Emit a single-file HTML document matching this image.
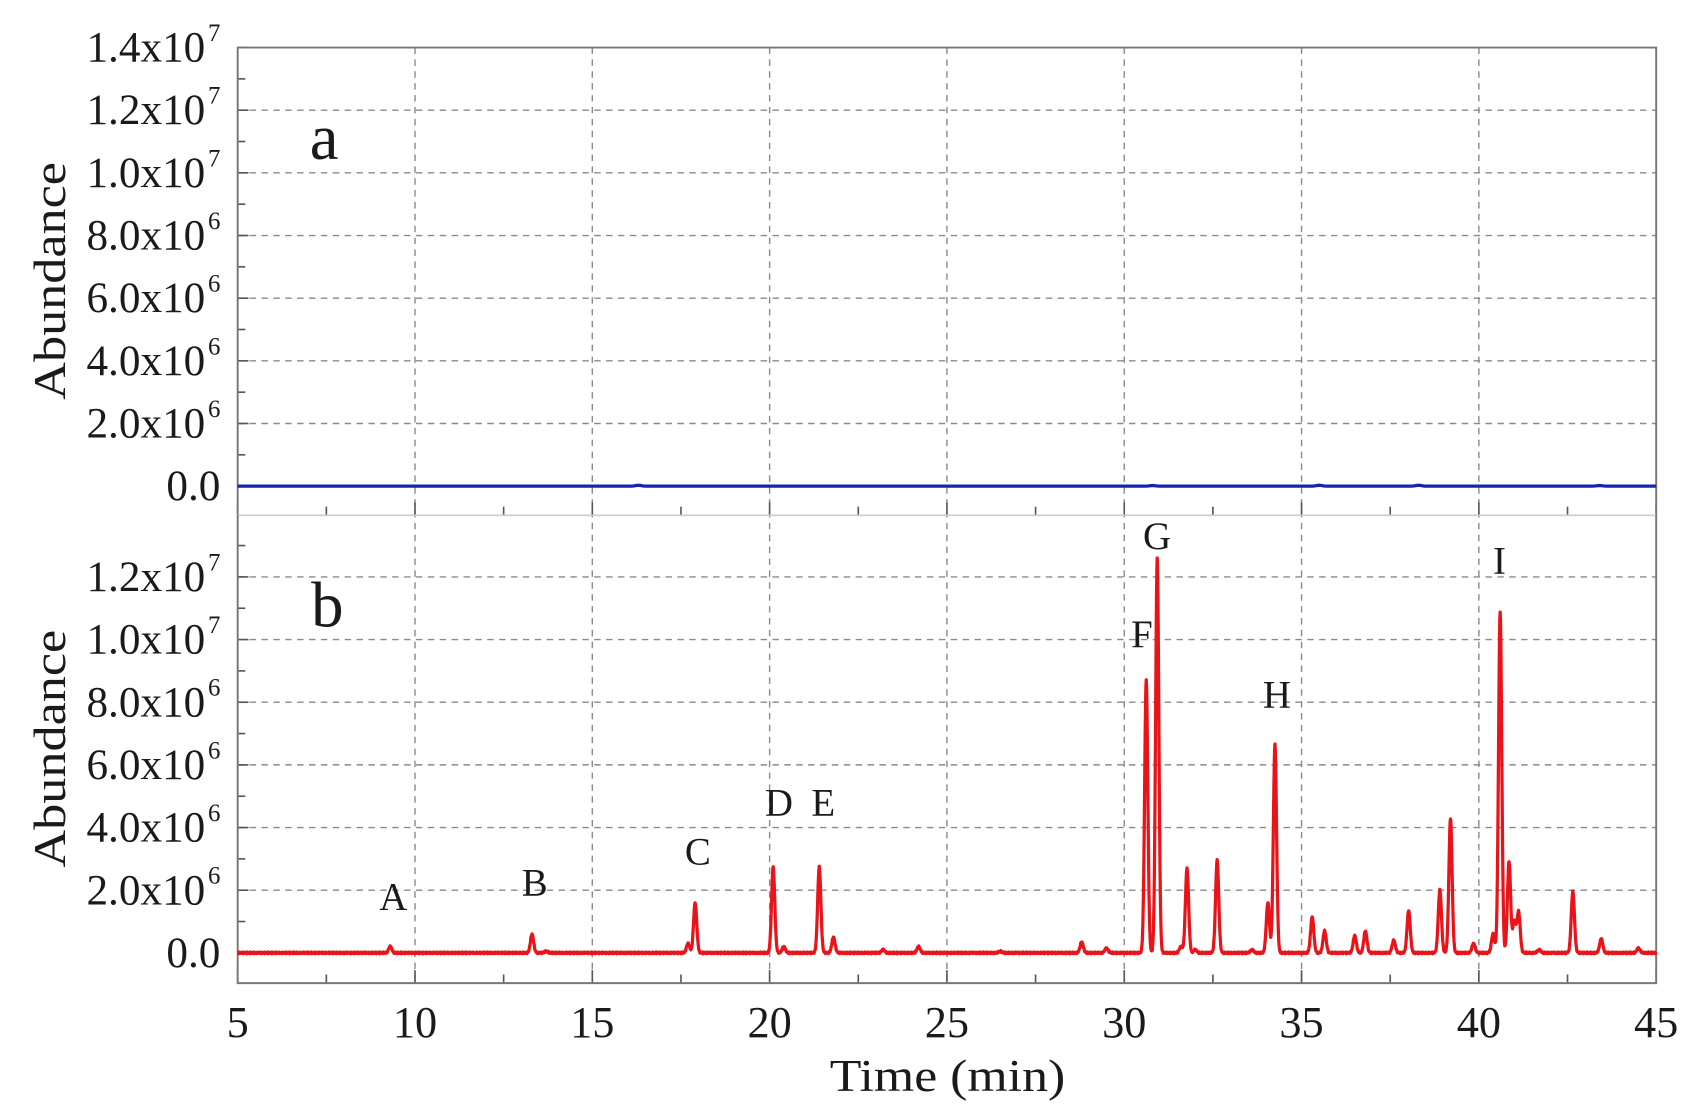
<!DOCTYPE html>
<html><head><meta charset="utf-8">
<style>
html,body{margin:0;padding:0;background:#fff;}
svg{display:block;}
text{font-family:"Liberation Serif",serif;fill:#1a1a1a;}
</style></head>
<body>
<svg id="s" width="1694" height="1116" viewBox="0 0 1568 1033" xmlns="http://www.w3.org/2000/svg">
<rect width="1568" height="1033" fill="#fff"/>
<g id="grid" stroke="#8a8a8a" stroke-width="1.3" stroke-dasharray="6,5" fill="none"></g>
<g id="ticks" stroke="#555" stroke-width="1.5" fill="none"></g>
<path d="M220,477 V44 H1533 V477" stroke="#777" stroke-width="1.8" fill="none"/>
<line x1="220" y1="477" x2="1533" y2="477" stroke="#ccc" stroke-width="1.5"/>
<path d="M220,477 V910 H1533 V477" stroke="#777" stroke-width="1.8" fill="none"/>
<path id="blue" stroke="#1a22b0" stroke-width="3" fill="none"/>
<path id="red" stroke="#e8141a" stroke-width="3" fill="none" stroke-linejoin="round"/>
<g id="labels" font-size="40" text-anchor="end"></g>
<g font-size="41" text-anchor="middle" id="xl"></g>
<text x="300" y="147" font-size="60" text-anchor="middle">a</text>
<text x="303" y="580" font-size="60" text-anchor="middle">b</text>
<g font-size="36" text-anchor="middle">
<text x="364" y="842">A</text><text x="495" y="829">B</text><text x="646" y="800">C</text>
<text x="721" y="755">D</text><text x="762" y="755">E</text><text x="1057" y="599">F</text>
<text x="1071" y="508">G</text><text x="1182" y="655">H</text><text x="1388" y="531">I</text>
</g>
<text transform="translate(60,260) rotate(-90)" font-size="42" text-anchor="middle" textLength="220" lengthAdjust="spacingAndGlyphs">Abundance</text>
<text transform="translate(60,693) rotate(-90)" font-size="42" text-anchor="middle" textLength="220" lengthAdjust="spacingAndGlyphs">Abundance</text>
<text x="877" y="1010" font-size="42" text-anchor="middle" textLength="218" lengthAdjust="spacingAndGlyphs">Time (min)</text>
</svg>
<script>
var NS="http://www.w3.org/2000/svg";
function X(t){return 220+(t-5)*(1313/40);}
function el(p,n,a,txt){var e=document.createElementNS(NS,n);for(var k in a)e.setAttribute(k,a[k]);if(txt!=null)e.textContent=txt;document.getElementById(p).appendChild(e);return e;}
var U=29;
for(var t=10;t<45;t+=5){el("grid","line",{x1:X(t),y1:44,x2:X(t),y2:910});}
for(var v=2;v<=12;v+=2){el("grid","line",{x1:220,y1:450-v*U,x2:1533,y2:450-v*U});el("grid","line",{x1:220,y1:882-v*U,x2:1533,y2:882-v*U});}
for(var v=0;v<=14;v++){var L=(v%2==0)?10:7;
 if(450-v*U>=44)el("ticks","line",{x1:220,y1:450-v*U,x2:220+L,y2:450-v*U});
 if(882-v*U>=478)el("ticks","line",{x1:220,y1:882-v*U,x2:220+L,y2:882-v*U});}
for(var t=5;t<=45;t+=2.5){var L=(t%5==0)?12:8;
 el("ticks","line",{x1:X(t),y1:910,x2:X(t),y2:910-L});
 el("ticks","line",{x1:X(t),y1:477,x2:X(t),y2:477-L});}
var labs=[[0,"0.0",""],[2,"2.0x10","6"],[4,"4.0x10","6"],[6,"6.0x10","6"],[8,"8.0x10","6"],[10,"1.0x10","7"],[12,"1.2x10","7"],[14,"1.4x10","7"]];
labs.forEach(function(l){
 [450,882].forEach(function(base){
  var y=base-l[0]*U; if(base==882&&l[0]>12)return;
  if(l[2]){el("labels","text",{x:190,y:y+13},l[1]);
   el("labels","text",{x:204,y:y-6,"font-size":23},l[2]);}
  else el("labels","text",{x:204,y:y+13},l[1]);
 });});
for(var t=5;t<=45;t+=5)el("xl","text",{x:X(t),y:960},""+t);
var P=[[9.3,0.2],[13.3,0.6],[13.7,0.05],[17.7,0.3],[17.9,1.6],[20.1,2.75],[20.4,0.2],[21.4,2.75],[21.8,0.5],[23.2,0.1],[24.2,0.2],[26.5,0.05],[28.8,0.35],[29.5,0.15],[30.62,8.7],[30.93,12.6],[31.6,0.2],[31.77,2.7],[32.0,0.1],[32.62,2.95],[33.6,0.1],[34.05,1.6],[34.25,6.65],[35.3,1.15],[35.65,0.7],[36.5,0.55],[36.8,0.7],[37.6,0.4],[38.02,1.35],[38.9,2.0],[39.2,4.3],[39.85,0.3],[40.4,0.6],[40.6,10.9],[40.85,2.9],[41.0,1.0],[41.12,1.3],[41.7,0.1],[42.65,1.95],[43.45,0.45],[44.5,0.15]];
var d="";for(var i=0;i<=4000;i++){var t=5+40*i/4000,s=0;
 P.forEach(function(p){var w=0.045;s+=p[1]*Math.exp(-Math.pow((t-p[0])/w,2)/2);});
 s+=0.03*Math.sin(i*1.7)*Math.sin(i*0.31);
 d+=(i?"L":"M")+X(t).toFixed(2)+","+(882-s*U).toFixed(2);}
document.getElementById("red").setAttribute("d",d);
var d2="";for(var i=0;i<=800;i++){var t=5+40*i/800,s=0;
 [[16.3,0.03],[30.8,0.02],[35.5,0.03],[38.3,0.03],[43.4,0.02]].forEach(function(p){s+=p[1]*Math.exp(-Math.pow((t-p[0])/0.08,2)/2);});
 d2+=(i?"L":"M")+X(t).toFixed(2)+","+(450-s*U).toFixed(2);}
document.getElementById("blue").setAttribute("d",d2);
</script>
</body></html>
